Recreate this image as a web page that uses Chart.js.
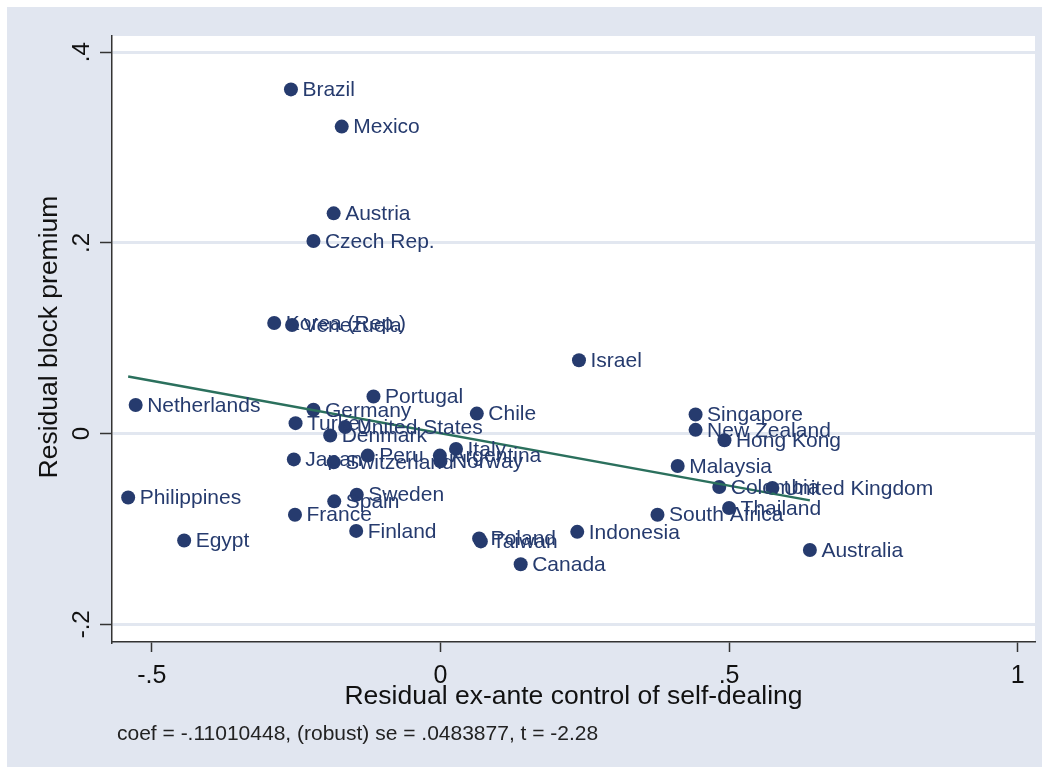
<!DOCTYPE html>
<html>
<head>
<meta charset="utf-8">
<script src="https://cdn.jsdelivr.net/npm/chart.js@4/dist/chart.umd.min.js"></script>
<style>
  html, body { margin: 0; padding: 0; background: #fff; }
  #wrap { width: 1049px; height: 772px; }
</style>
</head>
<body>
<div id="wrap"><canvas id="avplot" width="1049" height="772"></canvas></div>
<script>
// --- data ---
const countries = [
  'Brazil', 'Mexico', 'Austria', 'Czech Rep.', 'Korea (Rep.)', 'Venezuela', 'Israel',
  'Portugal', 'Germany', 'Chile', 'Turkey', 'United States', 'Denmark', 'Italy',
  'Japan', 'Peru', 'Switzerland', 'Argentina', 'Norway', 'Sweden', 'Spain', 'France',
  'Finland', 'Poland', 'Taiwan', 'Canada', 'Indonesia', 'Singapore', 'New Zealand',
  'Hong Kong', 'Malaysia', 'Colombia', 'United Kingdom', 'Thailand', 'South Africa',
  'Australia', 'Netherlands', 'Philippines', 'Egypt'
];
const residControl = [
  -0.259, -0.171, -0.185, -0.220, -0.288, -0.257, 0.240,
  -0.116, -0.220, 0.063, -0.251, -0.165, -0.191, 0.027,
  -0.254, -0.126, -0.185, -0.001, 0.000, -0.145, -0.184, -0.252,
  -0.146, 0.067, 0.070, 0.139, 0.237, 0.442, 0.442,
  0.492, 0.411, 0.483, 0.575, 0.500, 0.376,
  0.640, -0.528, -0.541, -0.444
];
const residPremium = [
  0.361, 0.322, 0.231, 0.202, 0.116, 0.114, 0.077,
  0.039, 0.025, 0.021, 0.011, 0.007, -0.002, -0.016,
  -0.027, -0.023, -0.030, -0.023, -0.029, -0.064, -0.071, -0.085,
  -0.102, -0.110, -0.113, -0.137, -0.103, 0.020, 0.004,
  -0.007, -0.034, -0.056, -0.057, -0.078, -0.085,
  -0.122, 0.030, -0.067, -0.112
];
const fitX = [-0.541, 0.640];
const fitY = [0.060, -0.070];
const xTicks = [-0.5, 0, 0.5, 1];
const xTickLabels = ['-.5', '0', '.5', '1'];
const yTicks = [-0.2, 0, 0.2, 0.4];
const yTickLabels = ['-.2', '0', '.2', '.4'];
const xTitle = 'Residual ex-ante control of self-dealing';
const yTitle = 'Residual block premium';
const noteText = 'coef = -.11010448, (robust) se = .0483877, t = -2.28';

const NAVY = '#263b6e';
const GREEN = '#2b705d';
const INK = '#111';
const FONT = '"Liberation Sans", Arial, sans-serif';

function drawText(ctx, text, x, y, rot) {
  ctx.save();
  ctx.translate(x, y);
  if (rot) ctx.rotate(rot);
  ctx.fillText(text, 0, 0);
  ctx.restore();
}

const stataLook = {
  id: 'stataLook',
  beforeDraw(chart) {
    const { ctx, chartArea: a } = chart;
    ctx.save();
    ctx.fillStyle = '#fff';
    ctx.fillRect(0, 0, chart.width, chart.height);
    ctx.fillStyle = '#e1e6f0';
    ctx.fillRect(7, 7, chart.width - 14, chart.height - 12);
    ctx.fillStyle = '#fff';
    ctx.fillRect(a.left, a.top, a.right - a.left, a.bottom - a.top);
    ctx.restore();
  },
  afterDatasetsDraw(chart) {
    const { ctx } = chart;
    const meta = chart.getDatasetMeta(1);
    ctx.save();
    ctx.font = '21px ' + FONT;
    ctx.fillStyle = NAVY;
    ctx.textAlign = 'left';
    ctx.textBaseline = 'middle';
    meta.data.forEach((pt, i) => {
      ctx.fillText(countries[i], pt.x + 11.5, pt.y + 1);
    });
    ctx.restore();
  },
  afterDraw(chart) {
    const { ctx, chartArea: a } = chart;
    const ys = chart.scales.y;
    ctx.save();
    ctx.fillStyle = INK;
    ctx.textAlign = 'center';
    ctx.textBaseline = 'middle';
    // rotated y tick labels
    ctx.font = '24px ' + FONT;
    yTicks.forEach((v, i) => {
      drawText(ctx, yTickLabels[i], 82, ys.getPixelForValue(v), -Math.PI / 2);
    });
    // axis titles
    ctx.font = '26.5px ' + FONT;
    drawText(ctx, xTitle, (a.left + a.right) / 2, 697, 0);
    drawText(ctx, yTitle, 50, (a.top + a.bottom) / 2 - 2, -Math.PI / 2);
    // note
    ctx.font = '21px ' + FONT;
    ctx.textAlign = 'left';
    ctx.fillStyle = '#222';
    drawText(ctx, noteText, 117, 734, 0);
    ctx.restore();
  }
};

const points = countries.map((c, i) => ({ x: residControl[i], y: residPremium[i] }));
const fitLine = fitX.map((x, i) => ({ x, y: fitY[i] }));

new Chart(document.getElementById('avplot'), {
  type: 'scatter',
  data: {
    datasets: [
      {
        label: 'Fitted values',
        data: fitLine,
        showLine: true,
        borderColor: GREEN,
        borderWidth: 2.5,
        pointRadius: 0,
        fill: false,
      },
      {
        label: 'Residual block premium',
        data: points,
        backgroundColor: NAVY,
        borderWidth: 0,
        pointRadius: 7,
        pointHoverRadius: 7,
      },
    ],
  },
  options: {
    responsive: false,
    animation: false,
    devicePixelRatio: 1,
    layout: { padding: { left: 0, right: 14, top: 36, bottom: 0 } },
    plugins: {
      legend: { display: false },
      tooltip: { enabled: false },
    },
    scales: {
      x: {
        type: 'linear',
        min: -0.569,
        max: 1.030,
        afterBuildTicks: s => { s.ticks = xTicks.map(v => ({ value: v })); },
        afterFit: s => { s.height = 130; },
        border: { color: '#333', width: 1.5 },
        grid: {
          drawOnChartArea: false,
          drawTicks: true,
          tickLength: 10,
          tickColor: '#333',
          tickWidth: 1.5,
        },
        ticks: {
          autoSkip: false,
          maxRotation: 0,
          padding: 9,
          color: INK,
          font: { family: FONT, size: 25 },
          callback: v => xTickLabels[xTicks.indexOf(v)],
        },
      },
      y: {
        type: 'linear',
        min: -0.2185,
        max: 0.417,
        afterBuildTicks: s => { s.ticks = yTicks.map(v => ({ value: v })); },
        afterFit: s => { s.width = 112; },
        border: { color: '#333', width: 1.5 },
        grid: {
          color: '#e2e7f0',
          lineWidth: 3,
          drawTicks: true,
          tickLength: 12,
          tickColor: '#333',
          tickWidth: 1.5,
        },
        ticks: { display: false },
      },
    },
  },
  plugins: [stataLook],
});
</script>
</body>
</html>
